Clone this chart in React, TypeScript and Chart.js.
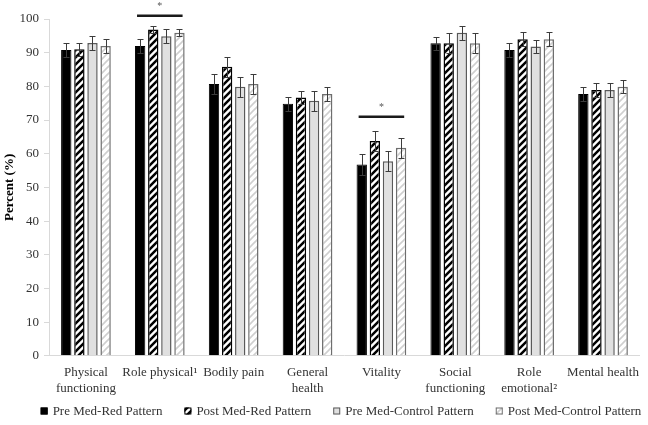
import React, { useEffect, useRef } from "react";
import { Chart, registerables } from "chart.js";

Chart.register(...registerables);

const categories: (string | string[])[] = [
  ["Physical", "functioning"],
  "Role physical¹",
  "Bodily pain",
  ["General", "health"],
  "Vitality",
  ["Social", "functioning"],
  ["Role", "emotional²"],
  "Mental health",
];

const seriesNames = [
  "Pre Med-Red Pattern",
  "Post Med-Red Pattern",
  "Pre Med-Control Pattern",
  "Post Med-Control Pattern",
];

const preRed = [90.8, 92.0, 80.7, 74.8, 56.8, 92.8, 90.8, 77.7];
const postRed = [91.0, 96.9, 85.8, 76.7, 63.8, 92.8, 94.0, 78.9];
const preControl = [92.9, 94.9, 79.9, 75.7, 57.8, 95.9, 91.8, 78.9];
const postControl = [92.0, 95.9, 80.7, 77.7, 61.8, 92.8, 94.0, 79.9];

const preRedErr = [2, 2, 3, 2, 3, 2, 2, 2];
const postRedErr = [2, 1, 3, 2, 3, 3, 2, 2];
const preControlErr = [2, 2, 3, 3, 3, 2, 2, 2];
const postControlErr = [2, 1, 3, 2, 3, 3, 2, 2];

const yTicks = [0, 10, 20, 30, 40, 50, 60, 70, 80, 90, 100];

// significance markers: category index, line level, asterisk level
const sigCategory = [1, 4];
const sigLineLevel = [101, 71];
const sigStarLevel = [104, 74];

const FONT = "'Liberation Serif', 'Times New Roman', serif";

function makeHatch(bg: string, fg: string, lw: number, size: number): CanvasPattern | string {
  const c = document.createElement("canvas");
  c.width = size;
  c.height = size;
  const x = c.getContext("2d");
  if (!x) return bg;
  x.fillStyle = bg;
  x.fillRect(0, 0, size, size);
  x.strokeStyle = fg;
  x.lineWidth = lw;
  x.lineCap = "square";
  x.beginPath();
  x.moveTo(0, size);
  x.lineTo(size, 0);
  x.moveTo(-size / 2, size / 2);
  x.lineTo(size / 2, -size / 2);
  x.moveTo(size / 2, size * 1.5);
  x.lineTo(size * 1.5, size / 2);
  x.stroke();
  const p = x.createPattern(c, "repeat");
  return p || bg;
}

export default function App() {
  const ref = useRef<HTMLCanvasElement | null>(null);

  useEffect(() => {
    document.body.style.margin = "0";
    const canvas = ref.current;
    if (!canvas) return;

    const errors = [preRedErr, postRedErr, preControlErr, postControlErr];

    const errorBarPlugin = {
      id: "errorBars",
      afterDatasetsDraw(chart: any) {
        const ctx = chart.ctx;
        const y = chart.scales.y;
        chart.data.datasets.forEach((ds: any, di: number) => {
          const meta = chart.getDatasetMeta(di);
          meta.data.forEach((bar: any, i: number) => {
            const v = ds.data[i];
            const e = errors[di][i];
            const top = Math.round(y.getPixelForValue(v + e)) + 0.5;
            const bot = Math.round(y.getPixelForValue(v - e)) + 0.5;
            const cx = Math.round(bar.x) + 0.5;
            ctx.save();
            ctx.strokeStyle = "#3c3c3c";
            ctx.lineWidth = 1;
            ctx.beginPath();
            ctx.moveTo(cx, top);
            ctx.lineTo(cx, bot);
            ctx.moveTo(cx - 3, top);
            ctx.lineTo(cx + 3, top);
            ctx.moveTo(cx - 3, bot);
            ctx.lineTo(cx + 3, bot);
            ctx.stroke();
            ctx.restore();
          });
        });
      },
    };

    const sigPlugin = {
      id: "sig",
      afterDatasetsDraw(chart: any) {
        const ctx = chart.ctx;
        const y = chart.scales.y;
        const first = chart.getDatasetMeta(0);
        const last = chart.getDatasetMeta(3);
        sigCategory.forEach((ci, k) => {
          const b0 = first.data[ci];
          const b3 = last.data[ci];
          const x0 = b0.x - b0.width * 0.3;
          const x1 = b3.x + b3.width * 0.3;
          const ly = y.getPixelForValue(sigLineLevel[k]);
          const sy = y.getPixelForValue(sigStarLevel[k]);
          ctx.save();
          ctx.strokeStyle = "#1a1a1a";
          ctx.lineWidth = 2.5;
          ctx.beginPath();
          ctx.moveTo(x0, ly);
          ctx.lineTo(x1, ly);
          ctx.stroke();
          ctx.fillStyle = "#555";
          ctx.font = `10px ${FONT}`;
          ctx.textAlign = "center";
          ctx.textBaseline = "middle";
          ctx.fillText("*", (x0 + x1) / 2, sy + 1);
          ctx.restore();
        });
      },
    };

    // custom legend row below the axis labels
    const legendPlugin = {
      id: "customLegend",
      afterDraw(chart: any) {
        const ctx = chart.ctx;
        const ds = chart.data.datasets;
        const box = 7;
        const textGap = 5;
        const itemGap = 22;
        ctx.save();
        ctx.font = `13px ${FONT}`;
        const widths = ds.map((d: any) => ctx.measureText(d.label).width);
        const total =
          widths.reduce((a: number, w: number) => a + box + textGap + w, 0) +
          itemGap * (ds.length - 1);
        let x = (chart.width - total) / 2 + 17;
        const cy = chart.height - 14;
        ds.forEach((d: any, i: number) => {
          ctx.fillStyle = d.backgroundColor;
          ctx.fillRect(x, cy - box / 2, box, box);
          ctx.strokeStyle = d.borderColor;
          ctx.lineWidth = 1;
          ctx.strokeRect(x + 0.5, cy - box / 2 + 0.5, box - 1, box - 1);
          ctx.fillStyle = "#333";
          ctx.textAlign = "left";
          ctx.textBaseline = "middle";
          ctx.fillText(d.label, x + box + textGap, cy + 1);
          x += box + textGap + widths[i] + itemGap;
        });
        ctx.restore();
      },
    };

    const blackHatch = makeHatch("#ffffff", "#000000", 2.5, 7);
    const greyHatch = makeHatch("#ffffff", "#cfcfcf", 1.6, 7);

    const chart = new Chart(canvas, {
      type: "bar",
      data: {
        labels: categories as any,
        datasets: [
          {
            label: seriesNames[0],
            data: preRed,
            backgroundColor: "#000000",
            borderColor: "#000000",
            borderWidth: 1,
          },
          {
            label: seriesNames[1],
            data: postRed,
            backgroundColor: blackHatch as any,
            borderColor: "#000000",
            borderWidth: 1.5,
          },
          {
            label: seriesNames[2],
            data: preControl,
            backgroundColor: "#e0e0e0",
            borderColor: "#5a5a5a",
            borderWidth: 1.5,
          },
          {
            label: seriesNames[3],
            data: postControl,
            backgroundColor: greyHatch as any,
            borderColor: "#6e6e6e",
            borderWidth: 1.5,
          },
        ],
      },
      options: {
        responsive: false,
        animation: false,
        categoryPercentage: 0.71,
        barPercentage: 0.79,
        layout: { padding: { top: 19, right: 1, left: 0, bottom: 20 } },
        plugins: {
          legend: { display: false },
          tooltip: { enabled: false },
          title: { display: false },
        },
        scales: {
          x: {
            grid: { display: false, drawTicks: false },
            border: { display: true, color: "#d9d9d9", width: 1 },
            ticks: {
              autoSkip: false,
              maxRotation: 0,
              minRotation: 0,
              padding: 9,
              color: "#333",
              font: { family: FONT, size: 13 },
            },
          },
          y: {
            min: 0,
            max: 100,
            afterFit(scale: any) {
              scale.width = 49;
            },
            afterBuildTicks(scale: any) {
              scale.ticks = yTicks.map((v) => ({ value: v }));
            },
            grid: {
              display: true,
              drawOnChartArea: false,
              drawTicks: true,
              tickLength: 5,
              color: "#d9d9d9",
            },
            border: { display: true, color: "#d9d9d9", width: 1 },
            ticks: {
              padding: 5,
              color: "#333",
              font: { family: FONT, size: 13 },
            },
            title: {
              display: true,
              text: "Percent (%)",
              color: "#000",
              font: { family: FONT, size: 13, weight: "bold" },
              padding: { top: 2, bottom: 0 },
            },
          },
        },
      },
      plugins: [errorBarPlugin, sigPlugin, legendPlugin],
    });

    return () => chart.destroy();
  }, []);

  return (
    <div style={{ width: 648, height: 425 }}>
      <canvas ref={ref} width={648} height={425} />
    </div>
  );
}
